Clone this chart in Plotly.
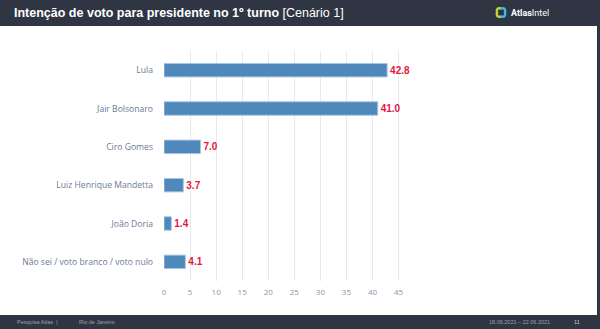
import plotly.graph_objects as go

categories = ["Lula", "Jair Bolsonaro", "Ciro Gomes", "Luiz Henrique Mandetta",
              "João Doria", "Não sei / voto branco / voto nulo"]
values = [42.8, 41.0, 7.0, 3.7, 1.4, 4.1]
value_labels = ["42.8", "41.0", "7.0", "3.7", "1.4", "4.1"]
x_ticks = [0, 5, 10, 15, 20, 25, 30, 35, 40, 45]

W, H = 600, 329
DARK = "#2f3542"
L, R, T, B = 164, 191, 51, 48

fig = go.Figure(go.Bar(
    x=values, y=categories, orientation="h",
    text=value_labels, texttemplate="<b>%{text}</b>",
    textposition="outside", cliponaxis=False,
    textfont=dict(color="#e3173e", size=10, family="Liberation Sans"),
    marker=dict(color="#4f88bb", line=dict(color="#a7c4e2", width=1)),
    width=0.35,
))

fig.update_layout(
    width=W, height=H,
    margin=dict(l=L, r=R, t=T, b=B, autoexpand=False),
    paper_bgcolor="white", plot_bgcolor="white",
    showlegend=False,
    font=dict(family="Open Sans", color="#6b7a99"),
    xaxis=dict(range=[0, 47], tickvals=x_ticks, showgrid=True,
               gridcolor="#e8e9ef", gridwidth=1, zeroline=False,
               tickfont=dict(size=8, color="#8a96b0"), ticks="", ticklen=0,
               ticklabelstandoff=5,
               showline=False, fixedrange=True, automargin=False),
    yaxis=dict(categoryorder="array", categoryarray=categories[::-1],
               tickfont=dict(size=8.6, color="#6b7a99", family="Open Sans"), ticks="",
               ticklabelstandoff=10, showline=False, fixedrange=True,
               automargin=False),
)

plot_w = W - L - R
plot_h = H - T - B

def px_x(px):
    return (px - L) / plot_w

def px_y(py):
    return (H - B - py) / plot_h

fig.add_shape(type="rect", xref="paper", yref="paper",
              x0=px_x(0), x1=px_x(W), y0=px_y(26), y1=px_y(0),
              fillcolor=DARK, line_width=0, layer="below")
fig.add_shape(type="rect", xref="paper", yref="paper",
              x0=px_x(0), x1=px_x(W), y0=px_y(H), y1=px_y(315),
              fillcolor=DARK, line_width=0, layer="below")
fig.add_shape(type="rect", xref="paper", yref="paper",
              x0=px_x(597), x1=px_x(W), y0=px_y(H), y1=px_y(0),
              fillcolor=DARK, line_width=0, layer="below")

# Logo ring (two-tone)
cx, cy, r = 501, 12.5, 4
fig.add_shape(type="path", xref="paper", yref="paper",
              path=(f"M {px_x(cx)},{px_y(cy - r)} "
                    f"Q {px_x(cx - r * 1.3)},{px_y(cy - r * 1.3)} {px_x(cx - r)},{px_y(cy)} "
                    f"Q {px_x(cx - r * 1.3)},{px_y(cy + r * 1.3)} {px_x(cx)},{px_y(cy + r)}"),
              line=dict(color="#b8d53a", width=2.5))
fig.add_shape(type="path", xref="paper", yref="paper",
              path=(f"M {px_x(cx)},{px_y(cy - r)} "
                    f"Q {px_x(cx + r * 1.3)},{px_y(cy - r * 1.3)} {px_x(cx + r)},{px_y(cy)} "
                    f"Q {px_x(cx + r * 1.3)},{px_y(cy + r * 1.3)} {px_x(cx)},{px_y(cy + r)}"),
              line=dict(color="#3fb6e6", width=2.5))

ann = [
    dict(x=px_x(12), y=px_y(13), xanchor="left", yanchor="middle",
         text="<b>Intenção de voto para presidente no 1º turno</b> [Cenário 1]",
         font=dict(size=12.5, color="white", family="Liberation Sans")),
    dict(x=px_x(509), y=px_y(13), xanchor="left", yanchor="middle",
         text="<b>Atlas</b>Intel", font=dict(size=9, color="white", family="Roboto")),
    dict(x=px_x(15), y=px_y(322), xanchor="left", yanchor="middle",
         text="Pesquisa Atlas  |", font=dict(size=5.5, color="#9aa2b1", family="Liberation Sans")),
    dict(x=px_x(77), y=px_y(322), xanchor="left", yanchor="middle",
         text="Rio de Janeiro", font=dict(size=5.5, color="#9aa2b1", family="Liberation Sans")),
    dict(x=px_x(487), y=px_y(322), xanchor="left", yanchor="middle",
         text="18.06.2021 – 22.06.2021", font=dict(size=5.5, color="#9aa2b1", family="Liberation Sans")),
    dict(x=px_x(572), y=px_y(322), xanchor="left", yanchor="middle",
         text="11", font=dict(size=5.5, color="#c9ced8", family="Liberation Sans")),
]
for a in ann:
    a.update(xref="paper", yref="paper", showarrow=False)
fig.update_layout(annotations=ann)

fig.write_html("out.html")
